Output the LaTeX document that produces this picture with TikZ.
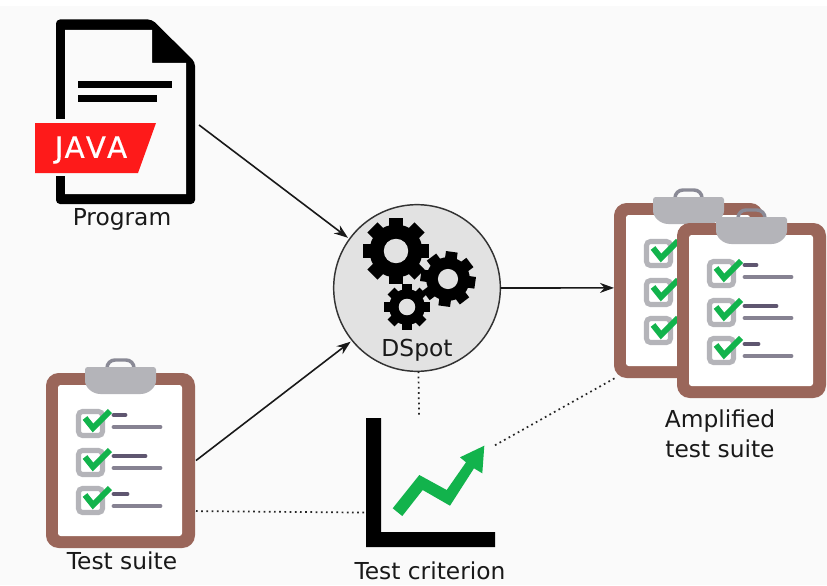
\documentclass[tikz,border=0pt]{standalone}
\usepackage{fontspec}
\setmainfont{DejaVu Sans}
\usetikzlibrary{arrows.meta}
\definecolor{bgc}{HTML}{FAFAFA}
\definecolor{brownb}{HTML}{9A665A}
\definecolor{clipc}{HTML}{B4B4B9}
\definecolor{handlec}{HTML}{8A8A96}
\definecolor{checkc}{HTML}{12B34C}
\definecolor{darkl}{HTML}{5F5670}
\definecolor{lightl}{HTML}{868292}
\definecolor{redb}{HTML}{FE1A1A}
\definecolor{circc}{HTML}{E2E2E2}
\tikzset{
  lab/.style={font=\fontsize{17.5pt}{22.5pt}\selectfont,text=black!90,inner sep=0pt,align=center},
  anchorbox/.style={inner sep=0pt,outer sep=0pt,minimum width=#1},
  flow/.style={draw=black!90,line width=1.2pt,shorten >=1.5pt,-{Stealth[length=10.5pt,width=7.5pt]}},
  link/.style={draw=black!85,line width=1.3pt,dash pattern=on 1.3pt off 2.6pt},
  pill/.style={line width=3.7pt,line cap=round},
  tick/.style={draw=checkc,line width=4.4pt},
  boxc/.style={draw=clipc,fill=white,line width=3.8pt,rounded corners=3pt},
}
\newcommand\chkrow[4]{% y of box, y of short line, short end, y of long line
  \draw[boxc] (32.5,#1+2.5) rectangle (56.5,#1+26.5);
  \draw[pill,darkl] (68,#2) -- (#3,#2);
  \draw[pill,lightl] (68,#4) -- (114,#4);
  \draw[tick] (39,#1+9) -- (47,#1+19) -- (64,#1+2);
}
\newcommand\board[2]{%
  \begin{scope}[shift={(#1,#2)}]
    \draw[handlec,line width=2.6pt,rounded corners=6pt] (61,-4) -- (61,-13) -- (88,-13) -- (88,-4);
    \fill[brownb,rounded corners=9.5pt] (0,0) rectangle (149,175);
    \fill[white,rounded corners=2pt] (12,12) rectangle (136,163);
    \fill[clipc,rounded corners=2pt] (39,-6) -- (110,-6) -- (110,5)
      .. controls (110,14) and (103,21) .. (92,21) -- (57,21)
      .. controls (46,21) and (39,14) .. (39,5) -- cycle;
    \chkrow{36}{42}{79}{54}
    \chkrow{75}{83}{99}{95}
    \chkrow{113}{121}{81}{133}
  \end{scope}
}
\newcommand\gear[4]{%
  \begin{scope}[shift={(#1,#2)}]
    \fill[black] (0,0) circle[radius=#3*0.78];
    \foreach \a in {0,45,...,315}
      \draw[black,line width=#3*0.42*0.75pt,line cap=butt]
        (\a+#4:#3*0.6) -- (\a+#4:#3*0.98);
    \fill[circc] (0,0) circle[radius=#3*0.36];
  \end{scope}
}
\begin{document}
\begin{tikzpicture}[x=0.75pt,y=-0.75pt]
\useasboundingbox (0,0) rectangle (827,585);
\fill[white] (0,0) rectangle (827,585);
\fill[bgc] (0,6) rectangle (827,585);

% --- Program icon
\fill[black,rounded corners=3pt] (56,19.5) -- (152,19.5) -- (195,62) -- (195,204) -- (56,204) -- cycle;
\fill[bgc] (65,30) -- (152,30) -- (152,63) -- (186,63) -- (186,194) -- (65,194) -- cycle;
\fill[black] (78,81) rectangle (172,88);
\fill[black] (78,95) rectangle (157,102);
\fill[bgc] (50,119) rectangle (66,176);
\fill[redb] (35,123) -- (156,123) -- (138,173) -- (35,173) -- cycle;
\node[inner sep=0pt,text=white,font=\fontsize{22pt}{24pt}\selectfont\addfontfeature{Kerning=Off,LetterSpace=4,FakeBold=0.6}] (javatag) at (91,150) {JAVA};
\node[lab] (programlabel) at (122,219) {Program};
\node[anchorbox=110.25pt,minimum height=138pt] (program) at (125.5,112) {};

% --- Test suite
\board{46}{373}
\node[anchorbox=112.5pt,minimum height=131.25pt] (suite) at (121,460.5) {};
\node[lab] (suitelabel) at (122,561) {Test suite};

% --- DSpot
\node[circle,draw=black!80,fill=circc,line width=1.1pt,minimum size=125pt,inner sep=0pt,outer sep=0pt] (dspot) at (417,288) {};
\gear{396}{251}{34}{0}
\gear{448}{279}{28}{8}
\gear{407}{307}{23}{0}
\node[lab] (dspotlabel) at (417,350) {DSpot};

% --- Test criterion
\fill[black] (366,418) -- (381,418) -- (381,532) -- (495,532) -- (495,547) -- (366,547) -- cycle;
\fill[checkc] (392.7,508.3) -- (419.3,475) -- (446.7,490) -- (466,462.3) -- (460,457.3)
  -- (484.3,445.7) -- (482.3,473.3) -- (474,468.3) -- (450,505.7) -- (422.7,490) -- (402.3,516) -- cycle;
\node[anchorbox=96.75pt,minimum height=96.75pt] (criterion) at (430.5,482.5) {};
\node[lab] (criterionlabel) at (430,571) {Test criterion};

% --- Amplified test suite
\board{614}{203}
\node[anchorbox=111.75pt,minimum height=131.25pt] (ampback) at (688.5,290.5) {};
\board{677}{223}
\node[lab] (amplabel) at (720,434) {Amplified\\test suite};

% --- Connectors
\draw[flow] (program.-10.8) -- (dspot.144);
\draw[flow] (suite.east) -- (dspot.219.5);
\draw[flow,shorten >=0pt] (dspot.east) -- (ampback.178);
\draw[link] (dspot.-89) -- (criterion.100);
\draw[link] (suite.-34) -- (criterion.205.3);
\draw[link] (criterion.30.2) -- (ampback.230.7);
\end{tikzpicture}
\end{document}
